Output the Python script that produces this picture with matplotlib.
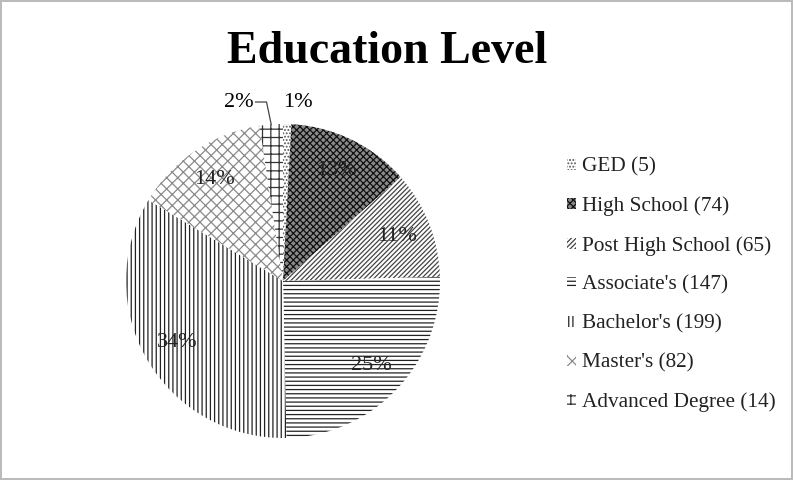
import numpy as np
import matplotlib
matplotlib.use("Agg")
import matplotlib.pyplot as plt

categories = ["GED", "High School", "Post High School", "Associate's",
              "Bachelor's", "Master's", "Advanced Degree"]
counts = [5, 74, 65, 147, 199, 82, 14]

plt.rcParams['font.family'] = ['Liberation Serif', 'DejaVu Serif']
plt.rcParams['hatch.linewidth'] = 0.9

faces = ['white', '#8a8a8a', 'white', 'white', 'white', 'white', 'white']
hatch_cols = ['#555555', '#111111', '#444444', '#222222', '#222222', '#8a8a8a', '#333333']
hatches = ['.....', 'xxxxx', '///////', '----', '||||', 'xxx', '++']

W, H = 793, 480
fig = plt.figure(figsize=(W / 100, H / 100), dpi=100)
fig.patch.set_edgecolor('#bbbbbb')
fig.patch.set_linewidth(1.5)

cx, cy, R = 283, 281, 157
ax = fig.add_axes([(cx - R) / W, (H - cy - R) / H, 2 * R / W, 2 * R / H])
wedges, _ = ax.pie(counts, startangle=90, counterclock=False, radius=1)
for w, fc, hc, h in zip(wedges, faces, hatch_cols, hatches):
    w.set_facecolor(fc)
    w.set_edgecolor(hc)
    w.set_hatch(h)
    w.set_linewidth(0)
ax.set_xlim(-1, 1)
ax.set_ylim(-1, 1)

total = sum(counts)
pcts = ["%d%%" % round(100 * c / total) for c in counts]
for i, w in enumerate(wedges):
    mid = np.deg2rad((w.theta1 + w.theta2) / 2)
    if counts[i] / total > 0.05:
        ax.text(0.78 * np.cos(mid), 0.78 * np.sin(mid), pcts[i], ha='center',
                va='center', fontsize=16, color='#222222')

# small slices labelled outside
mid_adv = np.deg2rad((wedges[6].theta1 + wedges[6].theta2) / 2)
ax.text(0.0, 1.14, pcts[0], ha='left', va='center', fontsize=16, clip_on=False)
ax.text(-0.19, 1.14, pcts[6], ha='right', va='center', fontsize=16, clip_on=False)
ax.plot([-0.175, -0.105, np.cos(mid_adv)], [1.14, 1.14, np.sin(mid_adv)],
        color='#444444', lw=0.9, clip_on=False)

fig.text(387 / W, 1 - 52 / H, "Education Level", ha='center', va='center',
         fontsize=33, fontweight='bold')

labels = ["%s (%d)" % (c, n) for c, n in zip(categories, counts)]
leg = fig.legend(wedges, labels, loc='center left', bbox_to_anchor=(548 / W, 1 - 285 / H),
                 frameon=False, fontsize=15.3, handlelength=0.4, handleheight=0.4,
                 handletextpad=0.3, labelspacing=0.93)
for t in leg.get_texts():
    t.set_color('#222222')

fig.savefig("out.png", dpi=100)
